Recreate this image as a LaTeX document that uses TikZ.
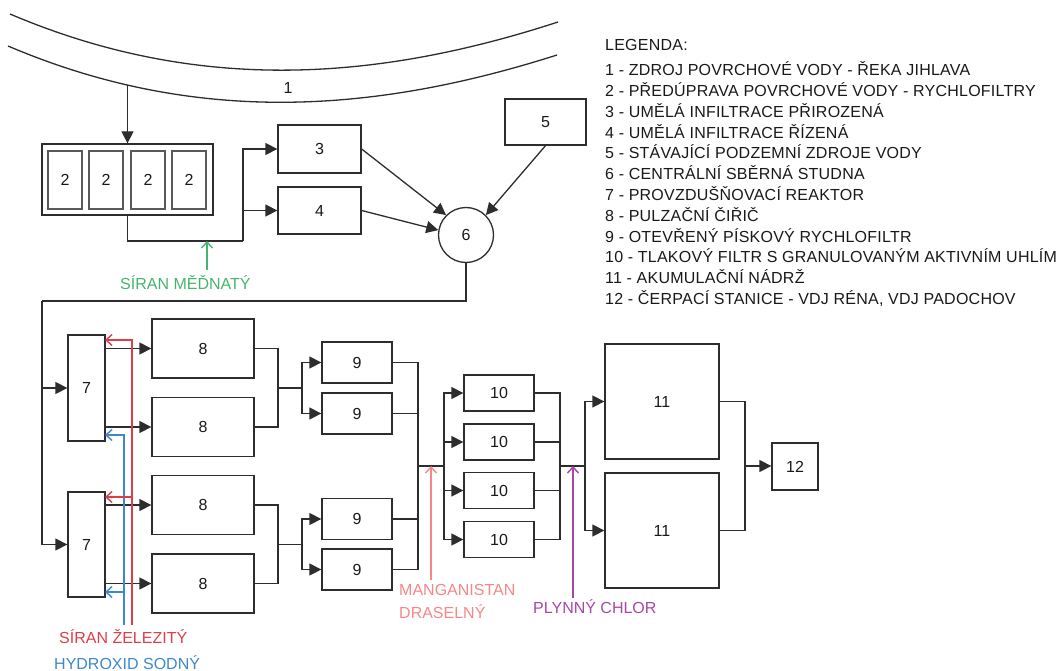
\documentclass[tikz,border=0pt]{standalone}
\usepackage{fontspec}
\setmainfont{Liberation Sans}
\usetikzlibrary{arrows.meta}
\definecolor{lc}{RGB}{45,45,45}
\definecolor{cgreen}{RGB}{70,180,110}
\definecolor{cred}{RGB}{222,62,72}
\definecolor{cblue}{RGB}{62,135,205}
\definecolor{cpink}{RGB}{245,135,135}
\definecolor{cpurple}{RGB}{168,70,168}
\begin{document}
\begin{tikzpicture}[x=1pt,y=-1pt,
  every node/.style={font=\fontsize{16}{19}\selectfont, text=black!90},
  box/.style={draw=lc, line width=1.3pt, inner sep=0pt, fill=white},
  ln/.style={draw=lc, line width=1.3pt},
  arr/.style={ln, -{Triangle[length=12pt,width=12pt]}},
  carr/.style={line width=1.4pt, -{Straight Barb[length=6pt,width=11pt]}},
  lbl/.style={anchor=base west, inner sep=0pt},
]
\useasboundingbox (0,0) rectangle (1059,671);

% river
\draw[ln] (10,14) .. controls (200,95) and (380,80) .. (558,22);
\draw[ln] (8,46) .. controls (198,127) and (378,112) .. (557,55) coordinate[pos=0.21] (riv);
\node (l1) at (288,88) {1};

% top part
\node[box, minimum width=171pt, minimum height=71pt] (cont) at (127.5,179.5) {};
\foreach \n/\x in {a/65,b/106,c/148,d/189}
  \node[box, line width=1.5pt, draw=black!65, minimum width=34pt, minimum height=58pt] (b2\n) at (\x,180) {2};
\node[box, minimum width=83pt, minimum height=48pt] (b3) at (319.5,149) {3};
\node[box, minimum width=83pt, minimum height=47pt] (b4) at (319.5,210.5) {4};
\node[box, minimum width=81pt, minimum height=46pt] (b5) at (545.5,122) {5};
\node[box, circle, minimum size=55pt] (c6) at (466,235) {6};

\draw[arr] (cont.north |- riv) -- (cont.north);
\coordinate (j1) at (243,241);
\draw[ln] (cont.south) |- (j1);
\draw[arr] (j1) |- (b3.west);
\draw[arr] (j1 |- b4.west) -- (b4.west);
\draw[arr] (b3.east) -- (c6.135);
\draw[arr] (b4.east) -- (c6.170);
\draw[arr] (b5.south) -- (c6.45);

\node[lbl, text=cgreen] (gl) at (120,289) {SÍRAN MĚĎNATÝ};
\draw[carr, cgreen] ([xshift=87pt,yshift=19pt]gl.base west) -- ([xshift=87pt]gl.base west |- j1);

% reactors 7
\node[box, minimum width=37pt, minimum height=106pt] (b7u) at (86.5,388) {7};
\node[box, minimum width=37pt, minimum height=105pt] (b7l) at (86.5,544.5) {7};
\coordinate (j2) at (42,301);
\draw[ln] (c6.south) |- (j2);
\draw[arr] (j2) |- (b7u.west);
\draw[arr] (j2) |- (b7l.west);

% clarifiers 8
\foreach \n/\y in {a/348.5,b/427,c/505,d/583.5}
  \node[box, minimum width=102pt, minimum height=59pt] (b8\n) at (203,\y) {8};
\draw[arr] (b7u.east |- b8a.west) -- (b8a.west);
\draw[arr] (b7u.east |- b8b.west) -- (b8b.west);
\draw[arr] (b7l.east |- b8c.west) -- (b8c.west);
\draw[arr] (b7l.east |- b8d.west) -- (b8d.west);

% chemicals red / blue
\node[lbl, text=cred] (rl) at (59,643) {SÍRAN ŽELEZITÝ};
\node[lbl, text=cblue] (bl) at (54,669) {HYDROXID SODNÝ};
\coordinate (rb) at (132,625);
\coordinate (r1) at (105,340);
\coordinate (r2) at (105,497);
\coordinate (bb) at (124,625);
\coordinate (bl1) at (105,435);
\coordinate (bl2) at (105,592);
\draw[carr, cblue] (bb) |- (bl1);
\draw[carr, cblue] (bb |- bl2) -- (bl2);
\draw[carr, cred] (rb) |- (r1);
\draw[carr, cred] (rb |- r2) -- (r2);

% filters 9
\foreach \n/\y in {a/362.5,b/413.5,c/519,d/569.5}
  \node[box, minimum width=70pt, minimum height=41pt] (b9\n) at (357,\y) {9};
\coordinate (m1) at (278,388);
\coordinate (s1) at (302,388);
\coordinate (m2) at (278,544.25);
\coordinate (s2) at (302,544.25);
\draw[ln] (b8a.east) -| (m1);
\draw[ln] (b8b.east) -| (m1);
\draw[ln] (m1) -- (s1);
\draw[arr] (s1) |- (b9a.west);
\draw[arr] (s1) |- (b9b.west);
\draw[ln] (b8c.east) -| (m2);
\draw[ln] (b8d.east) -| (m2);
\draw[ln] (m2) -- (s2);
\draw[arr] (s2) |- (b9c.west);
\draw[arr] (s2) |- (b9d.west);

% filters 10
\foreach \n/\y in {a/393,b/442,c/490.5,d/539.5}
  \node[box, minimum width=70pt, minimum height=36pt] (b10\n) at (499,\y) {10};
\coordinate (m3) at (418,466);
\coordinate (s3) at (444,466);
\foreach \n in {a,b,c,d} \draw[ln] (b9\n.east) -| (m3);
\draw[ln] (m3) -- (s3);
\foreach \n in {a,b,c,d} \draw[arr] (s3) |- (b10\n.west);

% tanks 11, station 12
\node[box, minimum width=114pt, minimum height=115pt] (b11a) at (662,401.5) {11};
\node[box, minimum width=114pt, minimum height=115pt] (b11b) at (662,530.5) {11};
\node[box, minimum width=46pt, minimum height=47pt] (b12) at (795,466.5) {12};
\coordinate (m4) at (560,466);
\coordinate (s4) at (585,466);
\foreach \n in {a,b,c,d} \draw[ln] (b10\n.east) -| (m4);
\draw[ln] (m4) -- (s4);
\draw[arr] (s4) |- (b11a.west);
\draw[arr] (s4) |- (b11b.west);
\coordinate (m5) at (745,466);
\draw[ln] (b11a.east) -| (m5);
\draw[ln] (b11b.east) -| (m5);
\draw[arr] (m5) -- (m5 -| b12.west);

% chemicals pink / purple
\node[anchor=north west, inner sep=0pt, align=left, text=cpink, font=\fontsize{16}{23}\selectfont] (ml) at (399,584) {MANGANISTAN\\DRASELNÝ};
\draw[carr, cpink] ([xshift=32pt,yshift=4pt]ml.north west) -- ([xshift=32pt]ml.north west |- m3);
\node[lbl, text=cpurple] (cl) at (533,613.7) {PLYNNÝ CHLOR};
\draw[carr, cpurple] ([xshift=40pt,yshift=16pt]cl.base west) -- ([xshift=40pt]cl.base west |- m4);

% legend
\begin{scope}[every node/.append style={font=\addfontfeatures{LetterSpace=1.5}\fontsize{16}{19}\selectfont}]
\node[lbl] (lg0) at (605,50.7) {LEGENDA:};
\node[lbl] (lg1) at (605,75.7) {1 - ZDROJ POVRCHOVÉ VODY - ŘEKA JIHLAVA};
\node[lbl] (lg2) at (605,96.5) {2 - PŘEDÚPRAVA POVRCHOVÉ VODY - RYCHLOFILTRY};
\node[lbl] (lg3) at (605,117.3) {3 - UMĚLÁ INFILTRACE PŘIROZENÁ};
\node[lbl] (lg4) at (605,138.1) {4 - UMĚLÁ INFILTRACE ŘÍZENÁ};
\node[lbl] (lg5) at (605,158.9) {5 - STÁVAJÍCÍ PODZEMNÍ ZDROJE VODY};
\node[lbl] (lg6) at (605,179.7) {6 - CENTRÁLNÍ SBĚRNÁ STUDNA};
\node[lbl] (lg7) at (605,200.5) {7 - PROVZDUŠŇOVACÍ REAKTOR};
\node[lbl] (lg8) at (605,221.3) {8 - PULZAČNÍ ČIŘIČ};
\node[lbl] (lg9) at (605,242.1) {9 - OTEVŘENÝ PÍSKOVÝ RYCHLOFILTR};
\node[lbl] (lg10) at (605,262.9) {10 - TLAKOVÝ FILTR S GRANULOVANÝM AKTIVNÍM UHLÍM};
\node[lbl] (lg11) at (605,283.7) {11 - AKUMULAČNÍ NÁDRŽ};
\node[lbl] (lg12) at (605,304.5) {12 - ČERPACÍ STANICE - VDJ RÉNA, VDJ PADOCHOV};
\end{scope}
\end{tikzpicture}
\end{document}
